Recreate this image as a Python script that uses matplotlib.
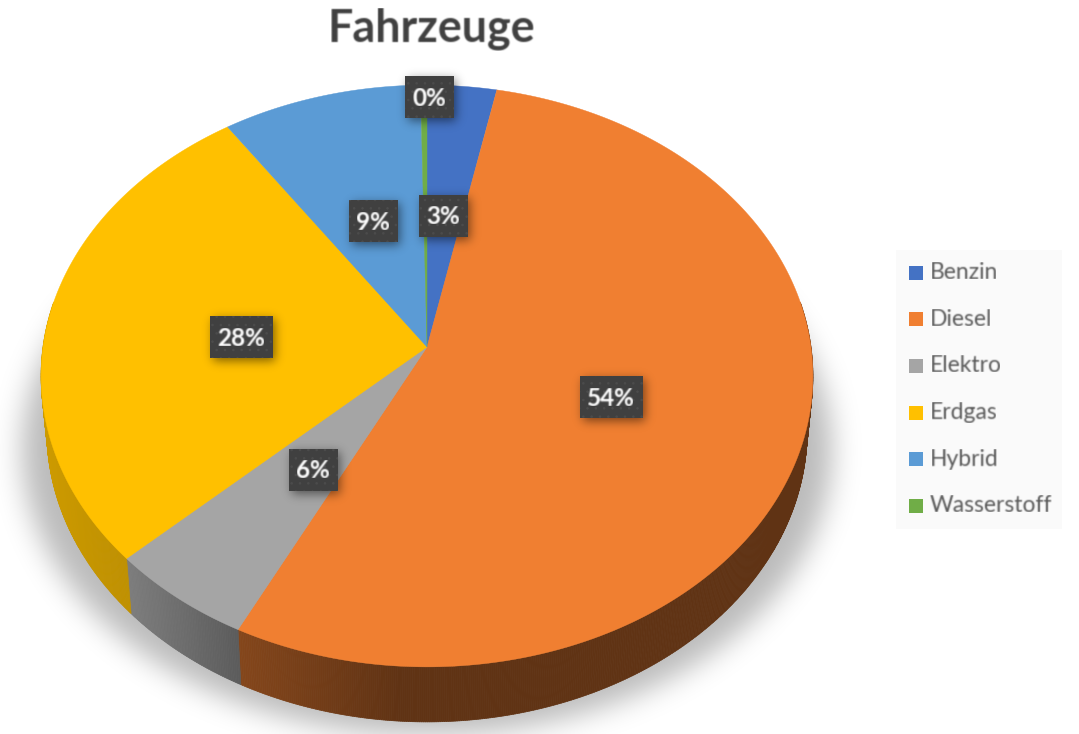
import numpy as np
import matplotlib
matplotlib.use("Agg")
import matplotlib.pyplot as plt
from matplotlib.collections import PolyCollection
from matplotlib.patches import Polygon, Rectangle

plt.rcParams["font.family"] = ["Lato", "DejaVu Sans"]
plt.rcParams["hatch.linewidth"] = 0.6

# data
categories = ["Benzin", "Diesel", "Elektro", "Erdgas", "Hybrid", "Wasserstoff"]
shares = [3.2, 54.2, 5.6, 27.5, 9.2, 0.3]
colors = ["#4472C4", "#F07F31", "#A5A5A5", "#FFC000", "#5B9BD5", "#70AD47"]
title = "Fahrzeuge"

# label box centres in pixels, same order as categories
label_pos = [(443, 216), (611, 397), (313, 470), (241, 337), (373, 221), (429, 97)]

W, H = 1079, 734
APEX_X, APEX_Y = 427, 347
A, B, K = 384, 288, 0.0997  # perspective circle
DEPTH = 55
BG_TEXT = "#595959"


def project(theta):
    # theta in radians, clockwise from the top
    w = 1 + K * np.cos(theta)
    return APEX_X + A * np.sin(theta) / w, APEX_Y - B * np.cos(theta) / w


def lower_rim(x, y):
    return APEX_X + 0.985 * (x - APEX_X), y + DEPTH


def blur(img, sigma):
    # pad so the fft does not wrap the shadow round the edges
    pad = int(sigma * 4) + 1
    padded = np.pad(img, pad)
    fy = np.fft.fftfreq(padded.shape[0])[:, None]
    fx = np.fft.rfftfreq(padded.shape[1])[None, :]
    gauss = np.exp(-2 * (np.pi * sigma) ** 2 * (fx**2 + fy**2))
    out = np.fft.irfft2(np.fft.rfft2(padded) * gauss, s=padded.shape)
    return out[pad:-pad, pad:-pad]


def shadow_layer(mask, sigma, alpha):
    rgba = np.zeros((H, W, 4))
    rgba[..., 3] = np.clip(blur(mask, sigma), 0, 1) * alpha
    return rgba


def soften(img, dpi):
    # the reference is a scaled-up screenshot, so its text is a bit soft
    a = img[..., 3]
    new_a = np.clip(blur(a, 0.65), 0, 1)
    out = np.zeros_like(img)
    for c in range(3):
        out[..., c] = blur(img[..., c] * a, 0.65) / np.maximum(new_a, 1e-3)
    out[..., :3] = np.clip(out[..., :3], 0, 1)
    out[..., 3] = new_a
    return out, 0, 0


fig = plt.figure(figsize=(W / 100, H / 100), dpi=100)
ax = fig.add_axes([0, 0, 1, 1])
ax.set_xlim(0, W)
ax.set_ylim(H, 0)
ax.axis("off")

yy, xx = np.mgrid[0:H, 0:W] + 0.5
extent = (0, W, H, 0)

# soft shadow under the pie
pie_mask = (((xx - 427) / 405) ** 2 + ((yy - 450) / 285) ** 2 <= 1).astype(float)
ax.imshow(shadow_layer(pie_mask, 14, 0.27), extent=extent, aspect="auto", zorder=1)

fractions = np.array(shares) / sum(shares)
edges = np.concatenate([[0], np.cumsum(fractions)]) * 2 * np.pi

# side wall, darker towards the right
strips, strip_colors = [], []
for i, color in enumerate(colors):
    lo, hi = max(edges[i], np.pi * 0.45), min(edges[i + 1], np.pi * 1.55)
    if hi <= lo:
        continue
    base = np.array(matplotlib.colors.to_rgb(color))
    th = np.linspace(lo, hi, max(int((hi - lo) * 200), 2))
    for t0, t1 in zip(th[:-1], th[1:]):
        x0, y0 = project(t0)
        x1, y1 = project(t1)
        x0b, y0b = lower_rim(x0, y0)
        x1b, y1b = lower_rim(x1, y1)
        strips.append([(x0, y0), (x1, y1), (x1b, y1b), (x0b, y0b)])
        shade = np.interp((x0 + x1) / 2, [45, 130, 240, 400, 814], [0.8, 0.75, 0.55, 0.40, 0.40])
        strip_colors.append(base * shade)
ax.add_collection(
    PolyCollection(strips, facecolors=strip_colors, edgecolors=strip_colors, linewidths=0.5, zorder=2)
)

# top faces
for i, color in enumerate(colors):
    th = np.linspace(edges[i], edges[i + 1], 200)
    x, y = project(th)
    pts = [(APEX_X, APEX_Y)] + list(zip(x, y))
    ax.add_patch(Polygon(pts, closed=True, facecolor=color, edgecolor=color, linewidth=0.3, zorder=3))

# data labels
box_h = 42
box_mask = np.zeros((H, W))
boxes = []
for share, (cx, cy) in zip(fractions, label_pos):
    text = f"{share * 100:.0f}%"
    box_w = 63 if len(text) == 3 else 49
    boxes.append((cx - box_w / 2, cy - box_h / 2, box_w, text, cx, cy))
    box_mask[(xx > cx - box_w / 2 + 3) & (xx < cx + box_w / 2 + 3) & (yy > cy - box_h / 2 + 3) & (yy < cy + box_h / 2 + 3)] = 1
ax.imshow(shadow_layer(box_mask, 5, 0.5), extent=extent, aspect="auto", zorder=4)
ax.set_xlim(0, W)
ax.set_ylim(H, 0)

for x0, y0, box_w, text, cx, cy in boxes:
    ax.add_patch(Rectangle((x0, y0), box_w, box_h, facecolor="#404040", edgecolor="none", zorder=5))
    ax.add_patch(Rectangle((x0, y0), box_w, box_h, facecolor="none", edgecolor="#4c4c4c", hatch="..", linewidth=0, zorder=5))
    label = ax.text(cx, cy + 1, text, color="white", fontsize=17.5, fontweight="bold", ha="center", va="center", zorder=6)
    label.set_agg_filter(soften)

# title
title_text = ax.text(431, 29, title, color="#404040", fontsize=32.3, fontweight="bold", ha="center", va="center", zorder=6)
title_text.set_agg_filter(soften)

# legend
ax.add_patch(Rectangle((896, 250), 166, 279, facecolor="#FAFAFA", edgecolor="none", zorder=2))
legend_y = np.linspace(272.7, 505.7, len(categories))
for name, color, y in zip(categories, colors, legend_y):
    ax.add_patch(Rectangle((909, y - 7), 14, 14, facecolor=color, edgecolor="none", zorder=3))
    entry = ax.text(930, y, name, color=BG_TEXT, fontsize=16.5, ha="left", va="center", zorder=3)
    entry.set_agg_filter(soften)

fig.savefig("out.png", dpi=100)
